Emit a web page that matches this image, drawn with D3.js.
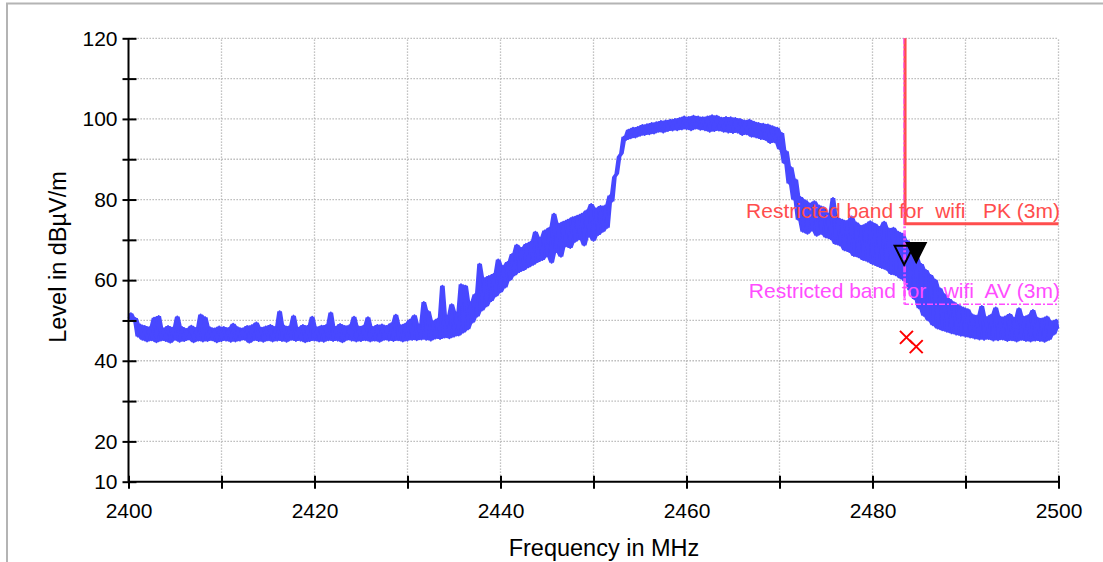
<!DOCTYPE html>
<html>
<head>
<meta charset="utf-8">
<script src="https://cdn.jsdelivr.net/npm/d3@7"></script>
<style>
  body { margin: 0; background: #fff; }
  svg { display: block; font-family: "Liberation Sans", Arial, sans-serif; }
</style>
</head>
<body>
<div id="chart"></div>
<script>
// sweep grid of the analyzer trace
const startFreq = 2400, stepMHz = 0.25;

// measured level (dBµV/m), one value every 0.25 MHz, 2400 .. 2500 MHz
const level = [
  50.5,51.8,49.8,50.6, 46.0,49.0,45.2,48.6, 44.8,48.3,45.1,50.7, 44.6,51.1,45.0,48.0, 44.9,48.6,44.5,48.2,
  45.2,51.0,44.7,48.4, 44.9,47.9,45.3,48.7, 44.6,48.1,45.0,51.5, 44.8,50.8,44.9,48.3, 45.1,48.0,44.6,48.5,
  44.9,48.4,45.0,48.1, 44.7,49.2,44.8,48.3, 45.0,48.0,45.2,48.6, 44.5,48.8,45.1,49.5, 44.9,48.2,44.7,48.5,
  45.1,48.9,44.8,48.4, 45.0,52.3,44.9,48.7, 44.7,48.5,45.2,51.2, 44.9,48.2,45.0,48.9, 44.6,48.6,44.9,50.9,
  45.0,48.3,44.8,48.7, 44.7,48.9,45.1,52.0, 44.9,48.4,45.0,49.1, 44.6,48.6,45.2,48.8, 45.0,50.9,44.8,48.5,
  44.9,48.7,45.1,50.8, 44.8,48.4,45.0,48.9, 44.7,49.0,45.2,48.6, 45.0,49.3,44.9,51.4, 45.1,48.8,44.8,49.2,
  45.0,50.2,45.2,51.3, 45.1,49.0,45.3,54.6, 45.2,52.3,45.0,49.8, 45.5,50.4,45.4,58.6, 45.8,51.2,45.6,54.0,
  46.0,52.0,46.3,59.0, 47.0,58.6,47.8,54.5, 49.5,56.5,51.0,64.1, 52.5,60.5,53.5,61.0, 54.8,61.5,56.0,65.1,
  57.0,63.5,58.2,64.5, 60.0,66.5,61.2,68.8, 62.0,68.0,62.5,69.0, 63.2,69.5,63.8,72.0, 64.5,70.5,65.0,72.3,
  65.9,73.0,64.3,76.5, 67.0,74.0,65.8,74.5, 68.4,75.0,68.0,75.6, 69.5,76.0,70.2,76.5, 68.6,77.3,70.8,78.9,
  69.8,77.8,71.2,78.4, 72.0,78.5,73.0,81.0, 79.5,85.6,86.4,90.6, 91.4,95.6,94.8,97.3, 95.2,97.8,95.4,98.0,
  95.8,98.5,96.0,98.7, 96.2,99.0,96.4,99.2, 96.8,99.5,96.6,99.6, 97.0,99.8,97.1,100.0, 97.2,100.2,97.4,100.6,
  97.5,100.5,97.2,100.8, 97.6,100.6,97.3,100.4, 97.2,100.6,96.8,100.9, 97.0,100.8,97.1,100.3, 96.8,100.5,96.6,100.4,
  96.5,100.2,96.6,100.0, 96.0,99.6,96.2,99.8, 95.6,99.3,95.4,99.0, 95.0,98.8,94.8,98.6, 94.0,98.2,94.2,97.8,
  92.5,96.5,89.0,92.0, 84.0,88.0,80.0,85.0, 75.0,80.6,72.0,79.8, 71.5,79.0,72.3,79.6, 71.0,78.5,71.5,78.1,
  70.6,76.5,70.2,80.4, 69.0,75.5,68.6,75.0, 67.4,74.7,67.0,75.8, 66.0,74.3,65.7,73.5, 65.0,73.9,64.6,74.6,
  64.0,74.0,63.5,73.2, 63.0,74.5,62.6,72.8, 61.5,73.0,61.2,72.0, 60.5,71.5,59.7,69.8, 57.5,68.0,55.3,65.8,
  53.0,64.0,51.2,62.5, 50.0,61.3,48.8,60.1, 48.0,58.0,47.6,56.5, 47.2,55.3,46.8,54.5, 46.5,53.8,46.2,53.2,
  46.0,52.8,45.8,51.5, 45.5,51.2,45.3,53.6, 45.2,50.8,45.4,51.4, 45.0,53.2,45.1,50.9, 45.3,51.0,44.9,51.6,
  45.1,50.6,44.8,53.0, 45.2,50.9,44.9,51.3, 44.8,52.6,45.0,50.7, 44.9,50.5,44.7,51.0, 45.2,49.8,46.5,50.2,
  48.0
];

// limit lines (restricted band above 2483.5 MHz)
const bandEdge = 2483.5;
const limitPK = 74, limitAV = 54;
const labelPK = "Restricted band for  wifi   PK (3m)";
const labelAV = "Restricted band for   wifi  AV (3m)";

// markers
const markerFreqs = [2483.4, 2484.7];
const markerLevels = [63.8, 64.5];
const markerFilled = [false, true];
const crossFreqs = [2483.65, 2484.7];
const crossLevels = [45.8, 43.5];

// axes
const xTicks = d3.range(2400, 2501, 10);
const xLabels = [2400, 2420, 2440, 2460, 2480, 2500];
const yTicks = d3.range(10, 121, 10);
const yLabels = [10, 20, 40, 60, 80, 100, 120];

const W = 1103, H = 562;
const svg = d3.select("#chart").append("svg")
    .attr("width", W).attr("height", H);

// outer frame (top and left edges)
svg.append("path")
    .attr("d", `M7,${H} L7,3.5 L${W},3.5`)
    .attr("fill", "none").attr("stroke", "#b4b4b4").attr("stroke-width", 2);

const x = d3.scaleLinear().domain([2400, 2500]).range([128.5, 1058.5]);
const y = d3.scaleLinear().domain([10, 120]).range([481.7, 38.3]);

// dotted grid
const grid = svg.append("g").attr("stroke", "#b0b0b0").attr("stroke-width", 1.3)
    .attr("stroke-dasharray", "1.3,1.7");
grid.selectAll(".gx").data(xTicks.filter(d => d > 2400)).join("line")
    .attr("x1", d => x(d)).attr("x2", d => x(d))
    .attr("y1", y(10)).attr("y2", y(120));
grid.selectAll(".gy").data(yTicks.filter(d => d > 10)).join("line")
    .attr("x1", x(2400)).attr("x2", x(2500))
    .attr("y1", d => y(d)).attr("y2", d => y(d));

// trace: dense noise band (running min/max of neighbours) + the raw trace
const fx = i => x(startFreq + i * stepMHz);
const nb = i => level.slice(Math.max(0, i - 1), i + 2);
const band = d3.area()
    .x((d, i) => fx(i))
    .y0((d, i) => y(d3.min(nb(i))))
    .y1((d, i) => y(d3.max(nb(i))));
svg.append("path")
    .datum(level)
    .attr("d", band)
    .attr("fill", "#4848ff");

const line = d3.line()
    .x((d, i) => fx(i))
    .y(d => y(d));
svg.append("path")
    .datum(level)
    .attr("d", line)
    .attr("fill", "none")
    .attr("stroke", "#4848ff")
    .attr("stroke-width", 2)
    .attr("stroke-linejoin", "round");

// limit lines
const limLine = d3.line().x(d => x(d[0])).y(d => y(d[1]));
svg.append("path")
    .attr("d", limLine([[bandEdge, 120], [bandEdge, limitAV], [2500, limitAV]]))
    .attr("fill", "none").attr("stroke", "#ff4dff").attr("stroke-width", 1.5)
    .attr("stroke-dasharray", "6,2,2,2");
svg.append("path")
    .attr("d", limLine([[bandEdge, 120], [bandEdge, limitPK], [2500, limitPK]]))
    .attr("fill", "none").attr("stroke", "#ff4d4d").attr("stroke-width", 3);
svg.append("line")
    .attr("x1", x(bandEdge) - 1.2).attr("x2", x(bandEdge) - 1.2)
    .attr("y1", y(120)).attr("y2", y(limitAV))
    .attr("stroke", "#ff4dff").attr("stroke-width", 1)
    .attr("stroke-dasharray", "6,2,2,2");

svg.append("text")
    .attr("x", x(2500) + 1.5).attr("y", y(limitPK) - 6)
    .attr("text-anchor", "end").attr("font-size", 21)
    .style("white-space", "pre")
    .attr("fill", "#ff4d4d").text(labelPK);
svg.append("text")
    .attr("x", x(2500) + 1.5).attr("y", y(limitAV) - 6)
    .attr("text-anchor", "end").attr("font-size", 21)
    .style("white-space", "pre")
    .attr("fill", "#ff4dff").text(labelAV);

// triangle markers (tip at the data point)
svg.selectAll(".mk").data(markerFreqs).join("path")
    .attr("d", (d, i) => {
      const px = x(d), py = y(markerLevels[i]);
      return `M${px},${py} L${px - 9.5},${py - 19} L${px + 9.5},${py - 19} Z`;
    })
    .attr("fill", (d, i) => markerFilled[i] ? "#000" : "none")
    .attr("stroke", "#000").attr("stroke-width", 2)
    .attr("stroke-linejoin", "miter");

// cross markers
svg.selectAll(".cx").data(crossFreqs).join("path")
    .attr("d", (d, i) => {
      const px = x(d), py = y(crossLevels[i]), s = 6.5;
      return `M${px - s},${py - s} L${px + s},${py + s} M${px - s},${py + s} L${px + s},${py - s}`;
    })
    .attr("stroke", "#ff0000").attr("stroke-width", 2).attr("fill", "none");

// x axis
const xAxis = svg.append("g")
    .attr("transform", `translate(0,${y(10)})`)
    .call(d3.axisBottom(x).tickValues(xTicks).tickSize(7).tickPadding(14)
      .tickFormat(d => xLabels.includes(d) ? d : ""));
xAxis.select(".domain").attr("stroke", "#000").attr("stroke-width", 2)
    .attr("d", `M${x(2400)},0H${x(2500)}`);
xAxis.selectAll(".tick line").attr("stroke", "#000").attr("stroke-width", 2)
    .attr("y1", -6).attr("y2", 7);
xAxis.selectAll(".tick text").attr("font-size", 21).attr("fill", "#000")
    .attr("font-family", "Liberation Sans, Arial, sans-serif");

// y axis
const yAxis = svg.append("g")
    .attr("transform", `translate(${x(2400)},0)`)
    .call(d3.axisLeft(y).tickValues(yTicks).tickSize(6).tickPadding(5)
      .tickFormat(d => yLabels.includes(d) ? d : ""));
yAxis.select(".domain").attr("stroke", "#000").attr("stroke-width", 2)
    .attr("d", `M0,${y(10)}V${y(120)}`);
yAxis.selectAll(".tick line").attr("stroke", "#000").attr("stroke-width", 2)
    .attr("x1", -6).attr("x2", 8);
yAxis.selectAll(".tick text").attr("font-size", 21).attr("fill", "#000")
    .attr("font-family", "Liberation Sans, Arial, sans-serif");

// axis titles
svg.append("text")
    .attr("x", 604).attr("y", 556)
    .attr("text-anchor", "middle").attr("font-size", 23.5)
    .text("Frequency in MHz");
svg.append("text")
    .attr("transform", "translate(66,257) rotate(-90)")
    .attr("text-anchor", "middle").attr("font-size", 23.5)
    .text("Level in dBµV/m");
</script>
</body>
</html>
